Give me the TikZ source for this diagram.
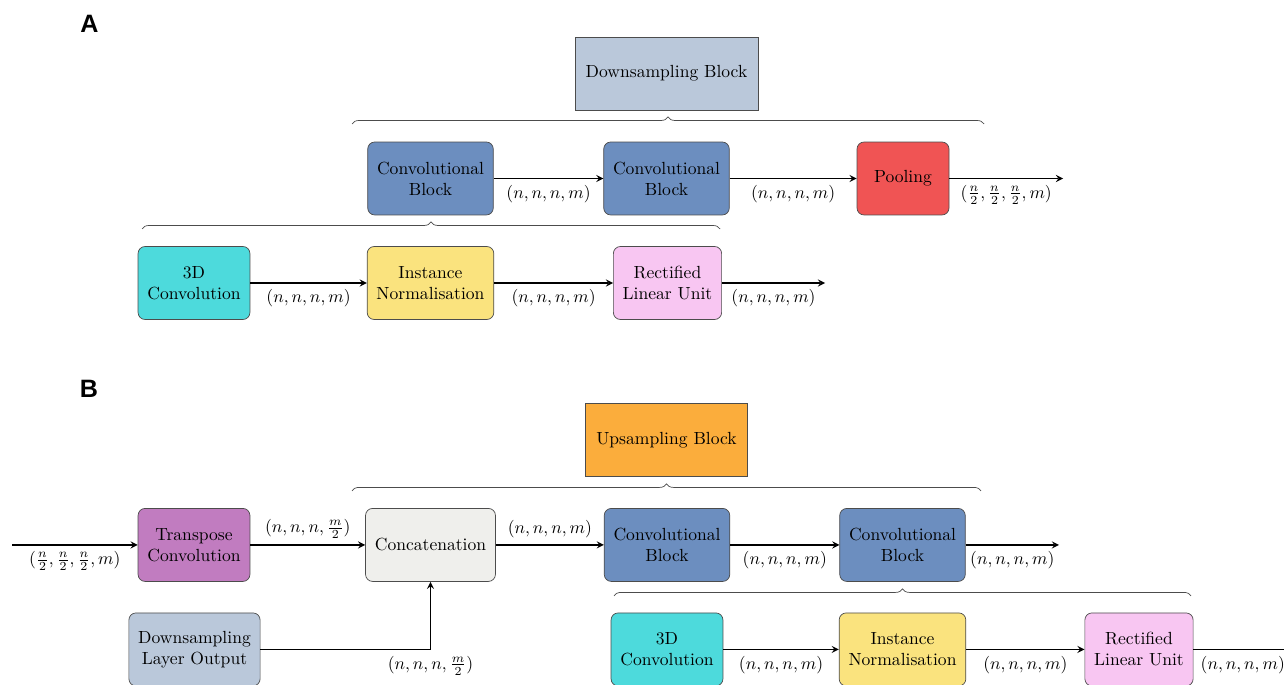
\documentclass[tikz,border=0pt]{standalone}
\usepackage{fontspec}
\newfontfamily\panelfont{Liberation Sans}
\usetikzlibrary{decorations.pathreplacing}

\definecolor{blockgrey}{HTML}{BAC8DA}
\definecolor{convblue}{HTML}{6C8EBF}
\definecolor{poolred}{HTML}{F05454}
\definecolor{convcyan}{HTML}{4DDADC}
\definecolor{normyellow}{HTML}{FAE37E}
\definecolor{relupink}{HTML}{F8C6F2}
\definecolor{transpurple}{HTML}{C17CC0}
\definecolor{concatgrey}{HTML}{EFEFEC}
\definecolor{uporange}{HTML}{FBAD3C}

\tikzset{
    blk/.style={draw=black!70, rounded corners=4pt, align=center,
        minimum height=1.46cm, inner xsep=5.3pt, inner ysep=4pt},
    headblk/.style={draw=black!70, minimum height=1.46cm, inner xsep=6pt},
    grpbrace/.style={draw=black!70, decorate, decoration={brace, amplitude=4pt}},
    panel/.style={font=\panelfont\bfseries\fontsize{14.3}{16}\selectfont}
}

\begin{document}
\begin{tikzpicture}[x=0.02cm, y=-0.02cm]
    \useasboundingbox (0,0) rectangle (1284,685);

    % Panel A: downsampling block
    \begin{scope}
        \node[panel] (labA) at (89.5,24) {A};
        \node[headblk, fill=blockgrey] (dsblk) at (666.5,73.5) {Downsampling Block};
        \draw[grpbrace] (352,124) -- (984,124);

        \node[blk, fill=convblue] (convA1) at (430.5,178.5) {Convolutional\\Block};
        \node[blk, fill=convblue] (convA2) at (666.5,178.5) {Convolutional\\Block};
        \node[blk, fill=poolred, minimum width=1.84cm] (poolA) at (903,178.5) {Pooling};
        \coordinate (outA) at (1063,178.5);
        \draw[thick,->,>=stealth] (convA1) -- node[below] {$(n,n,n,m)$} (convA2);
        \draw[thick,->,>=stealth] (convA2) -- node[below] {$(n,n,n,m)$} (poolA);
        \draw[thick,->,>=stealth] (poolA) -- node[below] {$(\frac{n}{2},\frac{n}{2},\frac{n}{2},m)$} (outA);

        \draw[grpbrace] (142,229) -- (720,229);

        \node[blk, fill=convcyan] (tdA) at (194,283) {3D\\Convolution};
        \node[blk, fill=normyellow] (inA) at (430.5,283) {Instance\\Normalisation};
        \node[blk, fill=relupink] (reluA) at (667.5,283) {Rectified\\Linear Unit};
        \coordinate (reluoutA) at (825,283);
        \draw[thick,->,>=stealth] (tdA) -- node[below] {$(n,n,n,m)$} (inA);
        \draw[thick,->,>=stealth] (inA) -- node[below] {$(n,n,n,m)$} (reluA);
        \draw[thick,->,>=stealth] (reluA) -- node[below] {$(n,n,n,m)$} (reluoutA);
    \end{scope}

    % Panel B: upsampling block
    \begin{scope}[yshift=-7.33cm]
        \node[panel] (labB) at (89,22) {B};
        \node[headblk, fill=uporange] (usblk) at (666.5,73.5) {Upsampling Block};
        \draw[grpbrace] (352,124.5) -- (981,124.5);

        \coordinate (inB) at (12,178.5);
        \node[blk, fill=transpurple] (tconvB) at (194,178.5) {Transpose\\Convolution};
        \node[blk, fill=concatgrey] (concatB) at (430.5,178.5) {Concatenation};
        \node[blk, fill=convblue] (convB1) at (667,178.5) {Convolutional\\Block};
        \node[blk, fill=convblue] (convB2) at (902.5,178.5) {Convolutional\\Block};
        \coordinate (outB) at (1059,178.5);
        \draw[thick,->,>=stealth] (inB) -- node[below] {$(\frac{n}{2},\frac{n}{2},\frac{n}{2},m)$} (tconvB);
        \draw[thick,->,>=stealth] (tconvB) -- node[above] {$(n,n,n,\frac{m}{2})$} (concatB);
        \draw[thick,->,>=stealth] (concatB) -- node[above] {$(n,n,n,m)$} (convB1);
        \draw[thick,->,>=stealth] (convB1) -- node[below] {$(n,n,n,m)$} (convB2);
        \draw[thick,->,>=stealth] (convB2) -- node[below] {$(n,n,n,m)$} (outB);

        \node[blk, fill=blockgrey] (dloB) at (194.5,283) {Downsampling\\Layer Output};
        \draw[thick,->,>=stealth] (dloB) -| node[below, pos=0.5] {$(n,n,n,\frac{m}{2})$} (concatB);

        \draw[grpbrace] (614,229.5) -- (1191,229.5);

        \node[blk, fill=convcyan] (tdB) at (667,283) {3D\\Convolution};
        \node[blk, fill=normyellow] (inB2) at (902.5,283) {Instance\\Normalisation};
        \node[blk, fill=relupink] (reluB) at (1139,283) {Rectified\\Linear Unit};
        \coordinate (reluoutB) at (1292,283);
        \draw[thick,->,>=stealth] (tdB) -- node[below] {$(n,n,n,m)$} (inB2);
        \draw[thick,->,>=stealth] (inB2) -- node[below] {$(n,n,n,m)$} (reluB);
        \draw[thick,->,>=stealth] (reluB) -- node[below] {$(n,n,n,m)$} (reluoutB);
    \end{scope}
\end{tikzpicture}
\end{document}
